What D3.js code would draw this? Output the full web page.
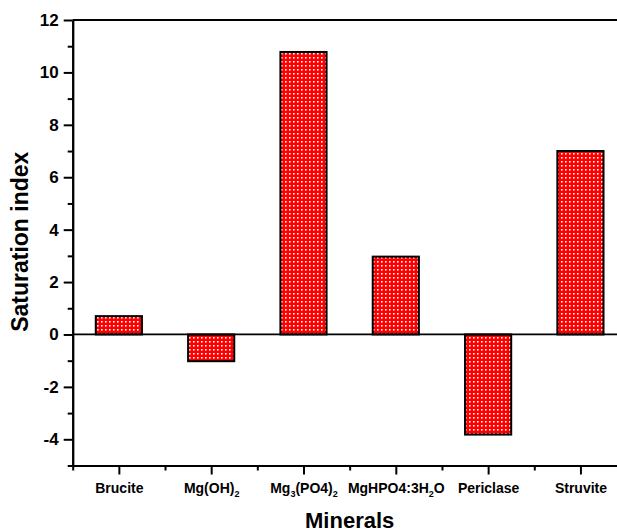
<!DOCTYPE html>
<html>
<head>
<meta charset="utf-8">
<script src="https://cdn.jsdelivr.net/npm/d3@7"></script>
<style>
  body { margin: 0; background: #fff; }
  svg { display: block; font-family: "Liberation Sans", Arial, sans-serif; }
</style>
</head>
<body>
<svg id="chart" width="617" height="532"></svg>
<script>
// category labels, "_{..}" marks a subscript
const categories = ["Brucite", "Mg(OH)_{2}", "Mg_{3}(PO4)_{2}", "MgHPO4:3H_{2}O", "Periclase", "Struvite"];
const saturationIndex = [0.70, -1.02, 10.78, 2.97, -3.82, 7.0];
const yMajorTicks = [-4, -2, 0, 2, 4, 6, 8, 10, 12];
const yMinorTicks = [-5, -3, -1, 1, 3, 5, 7, 9, 11];
const xMinorTicks = [0.5, 1.5, 2.5, 3.5, 4.5, 5.5, 6.5];

const svg = d3.select("#chart");

// dotted red fill like the original hatch
const defs = svg.append("defs");
const pat = defs.append("pattern")
    .attr("id", "dots")
    .attr("patternUnits", "userSpaceOnUse")
    .attr("width", 4)
    .attr("height", 4);
pat.append("rect").attr("width", 4).attr("height", 4).attr("fill", "#ff0000");
pat.append("rect").attr("x", 1).attr("y", 1).attr("width", 1.6).attr("height", 1.6).attr("fill", "#ffffff");

// x in category units (1..6), right edge runs off the picture like the original crop
const x = d3.scaleLinear().domain([0.5, 6.5]).range([72.7, 626.6]);
const y = d3.scaleLinear().domain([-5, 12]).range([465.5, 20]);

const barWidth = x(1.25) - x(0.75);

// bars
svg.append("g")
    .selectAll("rect")
    .data(saturationIndex)
    .join("rect")
    .attr("x", (d, i) => x(i + 1) - barWidth / 2)
    .attr("y", d => y(Math.max(d, 0)))
    .attr("width", barWidth)
    .attr("height", d => Math.abs(y(d) - y(0)))
    .attr("fill", "url(#dots)")
    .attr("stroke", "#000")
    .attr("stroke-width", 2);

// zero line
svg.append("line")
    .attr("x1", x(0.5)).attr("x2", x(6.5))
    .attr("y1", y(0)).attr("y2", y(0))
    .attr("stroke", "#000").attr("stroke-width", 1.8);

// top frame line
svg.append("line")
    .attr("x1", x(0.5)).attr("x2", x(6.5))
    .attr("y1", y(12)).attr("y2", y(12))
    .attr("stroke", "#000").attr("stroke-width", 2);

function styleAxis(g) {
    g.selectAll("path, line").attr("stroke", "#000").attr("stroke-width", 2);
}

// y axis, major + minor
svg.append("g")
    .attr("transform", `translate(${x(0.5)},0)`)
    .call(d3.axisLeft(y).tickValues(yMinorTicks).tickSize(5).tickSizeOuter(0).tickFormat(""))
    .call(styleAxis);

svg.append("g")
    .attr("transform", `translate(${x(0.5)},0)`)
    .call(d3.axisLeft(y).tickValues(yMajorTicks).tickSize(9).tickSizeOuter(0).tickPadding(5)
        .tickFormat(d => String(d)))
    .call(styleAxis)
    .call(g => g.selectAll("text")
        .attr("font-family", "'Liberation Sans', Arial, sans-serif")
        .attr("font-size", 17)
        .attr("font-weight", "bold")
        .attr("fill", "#000"));

// x axis, major + minor
svg.append("g")
    .attr("transform", `translate(0,${y(-5)})`)
    .call(d3.axisBottom(x).tickValues(xMinorTicks).tickSize(5).tickSizeOuter(0).tickFormat(""))
    .call(styleAxis);

const xAxis = svg.append("g")
    .attr("transform", `translate(0,${y(-5)})`)
    .call(d3.axisBottom(x).tickValues(categories.map((c, i) => i + 1)).tickSize(9).tickSizeOuter(0).tickFormat(""))
    .call(styleAxis);

// category labels with subscripts
xAxis.selectAll(".tick").each(function (d, i) {
    const t = d3.select(this).append("text")
        .attr("y", 27.5)
        .attr("text-anchor", "middle")
        .attr("fill", "#000")
        .attr("font-size", 14)
        .attr("font-weight", "bold");
    const parts = categories[i].split(/(_\{[^}]*\})/).filter(p => p.length);
    let sub = false;
    parts.forEach(p => {
        if (p.startsWith("_{")) {
            t.append("tspan").attr("font-size", 9).attr("dy", 4).text(p.slice(2, -1));
            sub = true;
        } else {
            t.append("tspan").attr("dy", sub ? -4 : 0).text(p);
            sub = false;
        }
    });
});

// axis titles
svg.append("text")
    .attr("transform", `translate(28,${(y(-5) + y(12)) / 2 - 1}) rotate(-90)`)
    .attr("text-anchor", "middle")
    .attr("font-size", 23)
    .attr("font-weight", "bold")
    .attr("fill", "#000")
    .text("Saturation index");

svg.append("text")
    .attr("x", (x(0.5) + x(6.5)) / 2)
    .attr("y", 528)
    .attr("text-anchor", "middle")
    .attr("font-size", 22)
    .attr("font-weight", "bold")
    .attr("fill", "#000")
    .text("Minerals");
</script>
</body>
</html>
